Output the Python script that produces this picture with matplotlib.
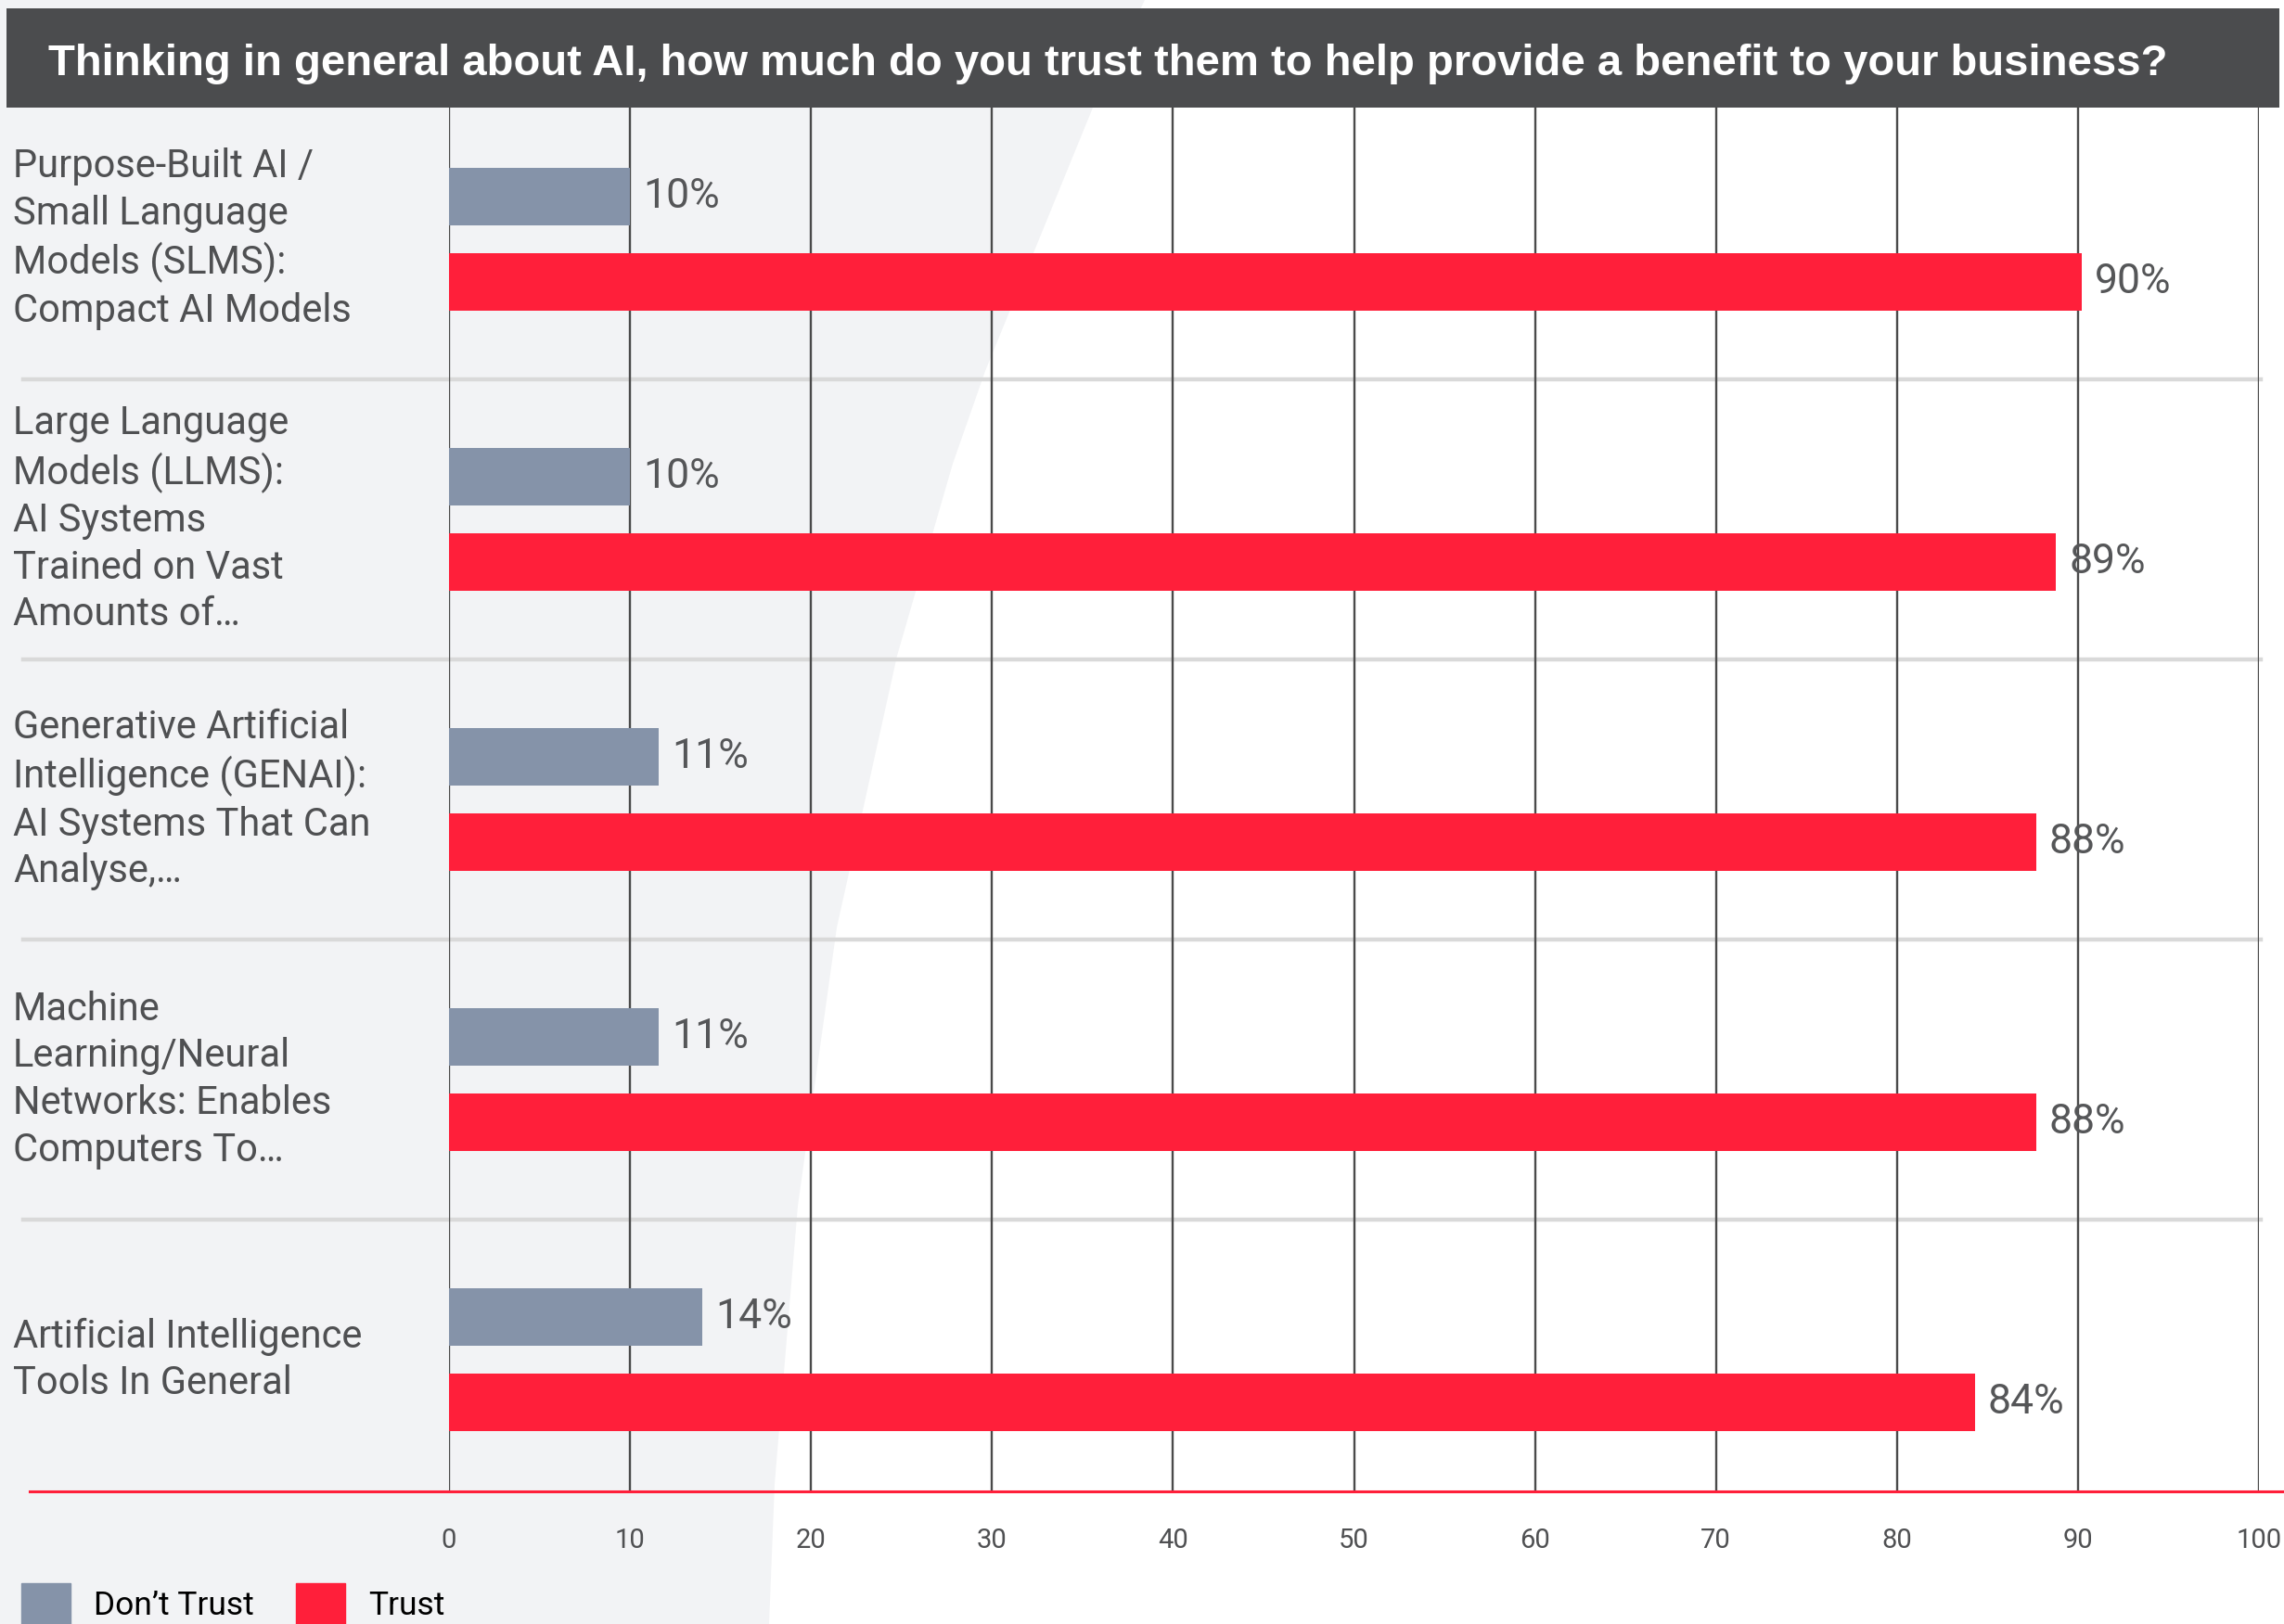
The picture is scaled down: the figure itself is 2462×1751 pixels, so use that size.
import numpy as np
import matplotlib.pyplot as plt
import matplotlib.transforms as mtransforms
from matplotlib.patches import Polygon, Rectangle, Patch

plt.rcParams['font.family'] = ['Roboto', 'DejaVu Sans']

title = "Thinking in general about AI, how much do you trust them to help provide a benefit to your business?"
categories = [
    "Purpose-Built AI /\nSmall Language\nModels (SLMS):\nCompact AI Models",
    "Large Language\nModels (LLMS):\nAI Systems\nTrained on Vast\nAmounts of\u2026",
    "Generative Artificial\nIntelligence (GENAI):\nAI Systems That Can\nAnalyse,\u2026",
    "Machine\nLearning/Neural\nNetworks: Enables\nComputers To\u2026",
    "Artificial Intelligence\nTools In General",
]
# bar lengths as drawn, and the labels printed next to them
dont_trust = [10.0, 10.0, 11.6, 11.6, 14.0]
trust = [90.2, 88.8, 87.7, 87.7, 84.3]
dont_trust_labels = ["10%", "10%", "11%", "11%", "14%"]
trust_labels = ["90%", "89%", "88%", "88%", "84%"]
xticks = list(range(0, 101, 10))
series_names = ["Don\u2019t Trust", "Trust"]

GREY = "#8593A9"
RED = "#FF1F3A"
TXT = "#4F5052"

W, H = 2462, 1751
fig = plt.figure(figsize=(W / 100, H / 100), dpi=100, facecolor="white")


def fx(x):
    return x / W


def fy(y):
    return 1 - y / H


# light grey wedge on the left of the page
edge = [(1234, 0), (1178, 116), (1062, 400), (1027, 500), (967, 707),
        (902, 1000), (860, 1300), (835, 1600), (829, 1751)]
pts = [(0, 0)] + edge + [(0, H)]
fig.patches.append(Polygon([(fx(a), fy(b)) for a, b in pts], closed=True,
                           transform=fig.transFigure, facecolor="#F2F3F5",
                           edgecolor="none", zorder=-2))

# title bar
fig.patches.append(Rectangle((fx(7), fy(116)), 2450 / W, 107 / H,
                             transform=fig.transFigure, facecolor="#4B4C4E",
                             edgecolor="none", zorder=-1))
fig.text(fx(52), fy(69), title, color="white", fontsize=34, fontweight="bold",
         family=["Liberation Sans", "DejaVu Sans"], va="center", ha="left")

ax = fig.add_axes([fx(484), fy(1608), (2435 - 484) / W, (1608 - 116) / H])
ax.patch.set_alpha(0)

y = np.arange(len(categories))
h = 0.205
off = 0.152
ax.barh(y - off, dont_trust, height=h, color=GREY, zorder=3)
ax.barh(y + off, trust, height=h, color=RED, zorder=3)

for vals, labs, pos in ((dont_trust, dont_trust_labels, y - off),
                        (trust, trust_labels, y + off)):
    for v, t, p in zip(vals, labs, pos):
        ax.annotate(t, (v, p), xytext=(10, 0), textcoords="offset points",
                    va="center", ha="left", fontsize=32, color="#555658",
                    zorder=4)

ax.set_xlim(0, 100)
ax.set_ylim(4.4686, -0.4686)
ax.set_xticks(xticks)
ax.set_yticks([])
ax.tick_params(axis="x", length=0, pad=28, labelsize=21, labelcolor=TXT)
for s in ax.spines.values():
    s.set_visible(False)
ax.grid(axis="x", color="#4a4a4a", lw=1.7, zorder=1)
ax.set_axisbelow(True)

blend_y = mtransforms.blended_transform_factory(fig.transFigure, ax.transData)
blend_ax = mtransforms.blended_transform_factory(fig.transFigure, ax.transAxes)

# separators between the groups
for s in y[:-1] + 0.5:
    ax.plot([fx(25), fx(2437)], [s, s], transform=blend_y, color="#D9D9D9",
            lw=3.2, clip_on=False, zorder=0.5)

# red baseline
ax.plot([fx(32), 1], [0, 0], transform=blend_ax, color=RED, lw=2.2,
        clip_on=False, zorder=2)

for p, lab in zip(y, categories):
    ax.text(fx(14), p, lab, transform=blend_y, ha="left", va="center",
            fontsize=30, color=TXT, linespacing=1.3)

handles = [Patch(color=GREY), Patch(color=RED)]
leg = fig.legend(handles, series_names, loc="center left",
                 bbox_to_anchor=(fx(23), fy(1729)), frameon=False, fontsize=25.5,
                 handlelength=1.5, handleheight=1.5, handletextpad=0.7,
                 columnspacing=1.29, ncol=2, borderpad=0, borderaxespad=0)
for t in leg.get_texts():
    t.set_color("black")

fig.savefig("out.png", dpi=100)
